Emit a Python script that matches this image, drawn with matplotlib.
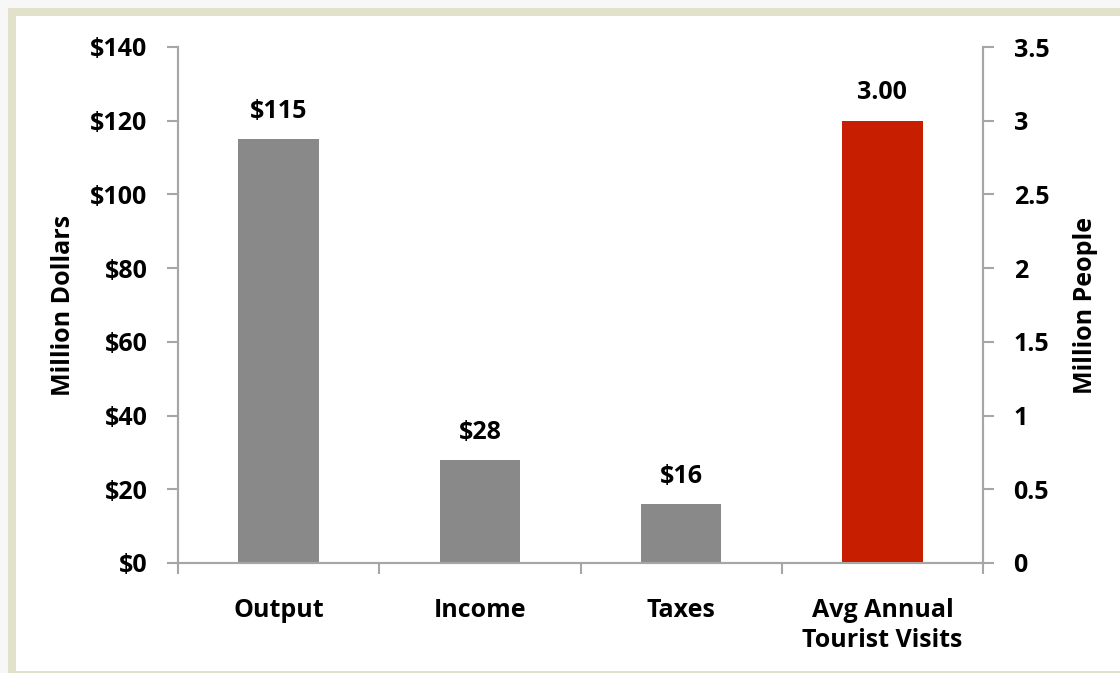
import matplotlib.pyplot as plt
from matplotlib.patches import Rectangle
import numpy as np

plt.rcParams['font.family'] = ['Open Sans', 'DejaVu Sans']
plt.rcParams['font.weight'] = 'bold'

# Data
categories = ['Output', 'Income', 'Taxes', 'Avg Annual\nTourist Visits']
dollars = [115, 28, 16]
dollar_labels = ['$115', '$28', '$16']
visits = [3.00]
visit_labels = ['3.00']
left_ticks = [0, 20, 40, 60, 80, 100, 120, 140]
right_ticks = [0, 0.5, 1, 1.5, 2, 2.5, 3, 3.5]
right_tick_labels = ['0', '0.5', '1', '1.5', '2', '2.5', '3', '3.5']

gray = '#898989'
red = '#c81e00'
axis_col = '#a6a6a6'
fs = 18

fig = plt.figure(figsize=(11.2, 6.73), dpi=100)
fig.patch.set_facecolor('#f7f7f7')
# beige frame
fig.patches.append(Rectangle((8/1120, 0), 1 - 8/1120, 1 - 8/673, transform=fig.transFigure,
                             facecolor='#e2e2cb', edgecolor='none', zorder=-2))
fig.patches.append(Rectangle((16/1120, 2/673), 1 - 16/1120, (673 - 18)/673, transform=fig.transFigure,
                             facecolor='white', edgecolor='none', zorder=-1))

ax = fig.add_axes([178/1120, 1 - 563/673, (983 - 178)/1120, (563 - 47)/673])
ax.set_facecolor('none')
ax2 = ax.twinx()

x = np.arange(len(categories))
w = 0.4
ax.bar(x[:3], dollars, width=w, color=gray, zorder=2)
ax2.bar(x[3:], visits, width=w, color=red, zorder=2)

for xi, v, lab in zip(x[:3], dollars, dollar_labels):
    ax.annotate(lab, (xi, v), xytext=(0, 11), textcoords='offset points',
                ha='center', va='bottom', fontsize=fs, fontweight='bold')
for xi, v, lab in zip(x[3:], visits, visit_labels):
    ax2.annotate(lab, (xi, v), xytext=(0, 11), textcoords='offset points',
                 ha='center', va='bottom', fontsize=fs, fontweight='bold')

ax.set_xlim(-0.5, 3.5)
ax.set_ylim(0, 140)
ax2.set_ylim(0, 3.5)

ax.set_yticks(left_ticks)
ax.set_yticklabels(['$' + str(t) for t in left_ticks], fontsize=fs, fontweight='bold')
ax2.set_yticks(right_ticks)
ax2.set_yticklabels(right_tick_labels, fontsize=fs, fontweight='bold')

ax.set_xticks(x)
ax.set_xticklabels(categories, fontsize=fs, fontweight='bold', linespacing=1.3)
ax.set_xticks(np.arange(-0.5, 4, 1), minor=True)
ax.tick_params(axis='x', which='major', length=0, pad=25)
ax.tick_params(axis='x', which='minor', length=8, color=axis_col, width=1.5)
ax.tick_params(axis='y', length=8, color=axis_col, width=1.5, pad=14)
ax2.tick_params(axis='y', length=8, color=axis_col, width=1.5, pad=14)

ax.set_ylabel('Million Dollars', fontsize=fs, fontweight='bold', labelpad=10)
ax2.set_ylabel('Million People', fontsize=fs, fontweight='bold', labelpad=17)

for a in (ax, ax2):
    a.spines['top'].set_visible(False)
    for s in ('left', 'right', 'bottom'):
        a.spines[s].set_color(axis_col)
        a.spines[s].set_linewidth(1.5)

plt.savefig('out.png', dpi=100, facecolor=fig.get_facecolor())
